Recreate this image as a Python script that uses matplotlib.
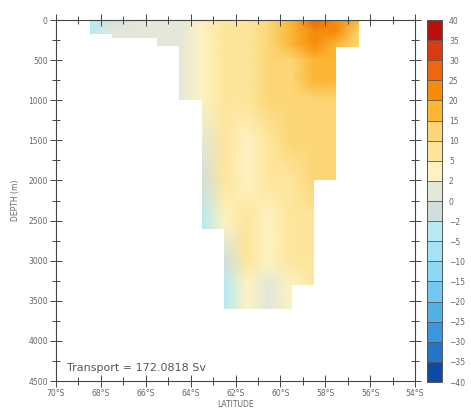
import numpy as np
import matplotlib.pyplot as plt
from matplotlib.colors import ListedColormap, BoundaryNorm
from matplotlib.patches import Polygon

# latitude nodes (deg, south negative) and depth nodes (m) of the section
lat_nodes = [-68.5, -67.5, -66.5, -65.5, -64.5, -63.5, -62.5,
             -61.5, -60.5, -59.5, -58.5, -57.5, -56.5]
depth_nodes = [0, 150, 300, 500, 750, 1000, 1500, 2000, 2500, 3000, 3300, 3600]

# zonal transport per node (Sv), rows = depth, cols = latitude
transport = [
    [-4, -1, 0.5, 1, 1, 3, 7, 9, 11, 17, 26, 23, 15],
    [-3, 0, 0.5, 1, 1, 3, 8, 9, 11, 16, 24, 21, 14],
    [-2, 0, 0.5, 1, 0.5, 2, 8, 9, 11, 15, 21, 19, 13],
    [-1, 0, 0.5, 1, 0.5, 2, 8, 9, 10, 13, 18, 17, 13],
    [0, 0, 0.5, 1, 0.5, 2, 8, 8, 10, 12, 15, 15, 13],
    [0, 0, 0.5, 1, 0.5, 2, 8, 7, 10, 11, 13, 14, 12],
    [0, 0, 0.5, 1, 0.5, 1, 8, 4, 9, 10, 12, 13, 12],
    [0, 0, 0.5, 1, 0, -1, 6, 3, 8, 9, 11, 11, 11],
    [0, 0, 0.5, 1, 0, -3, 4, 7, 3, 7, 8, 8, 8],
    [0, 0, 0.5, 1, 0, -3, -2, 6, 2, 6, 7, 7, 7],
    [0, 0, 0.5, 1, 0, -3, -3, 4, 1, 4, 5, 5, 5],
    [0, 0, 0.5, 1, 0, -3, -3, 3, 1, 3, 4, 4, 4],
]

# bottom depth of each 1-degree ocean column (between consecutive lat_nodes)
bottom_depth = [180, 220, 220, 320, 1000, 2600, 3600, 3600, 3600, 3300, 2000, 340]

total_transport = 172.0818

levels = [-40, -35, -30, -25, -20, -15, -10, -5, -2, 0, 2, 5, 10, 15, 20, 25, 30, 35, 40]
colors = ['#0c4aa6', '#2474c8', '#3c96dc', '#55b0e6', '#74c8f0', '#8ed8f4',
          '#a4e2f6', '#b6eaf5', '#d0dfdc', '#e3e8d8', '#fef2c2', '#fde69c',
          '#fcd676', '#fab634', '#f58c0a', '#ee6610', '#da3a12', '#b8100e']

cmap = ListedColormap(colors)
norm = BoundaryNorm(levels, cmap.N)

fig = plt.figure(figsize=(4.71, 4.12), dpi=100)
ax = fig.add_axes([0.1189, 0.0752, 0.7622, 0.8762])
cax = fig.add_axes([0.9066, 0.0728, 0.0318, 0.8786])

X, Y = np.meshgrid(lat_nodes, depth_nodes)
mesh = ax.pcolormesh(X, Y, np.array(transport, dtype=float), cmap=cmap, norm=norm,
                     shading='gouraud')

# clip the field to the ocean (stepped bathymetry)
outline = [(lat_nodes[0], 0)]
for i, b in enumerate(bottom_depth):
    outline.append((lat_nodes[i], b))
    outline.append((lat_nodes[i + 1], b))
outline.append((lat_nodes[-1], 0))
ocean = Polygon(outline, closed=True, transform=ax.transData, facecolor='none',
                edgecolor='none')
ax.add_patch(ocean)
mesh.set_clip_path(ocean)

ax.set_xlim(-70, -54)
ax.set_ylim(4500, 0)

xt = np.arange(-70, -53, 2)
ax.set_xticks(xt)
ax.set_xticklabels([f"{abs(v)}°S" for v in xt])
ax.set_xticks(np.arange(-70, -53, 1), minor=True)
ax.set_yticks(np.arange(0, 4501, 500))
ax.set_yticks(np.arange(0, 4501, 250), minor=True)

ax.tick_params(which='both', direction='inout', top=True, right=True,
               labeltop=False, labelright=False, colors='#444444',
               labelcolor='#666666', labelsize=5.5, width=0.7)
ax.tick_params(which='major', length=8, pad=2)
ax.tick_params(which='minor', length=6)
for s in ax.spines.values():
    s.set_color('#444444')
    s.set_linewidth(0.8)

ax.set_xlabel('LATITUDE', fontsize=5.5, color='#666666', labelpad=1)
ax.set_ylabel('DEPTH (m)', fontsize=5.5, color='#666666', labelpad=6)

ax.text(-69.5, 4340, f"Transport = {total_transport} Sv", fontsize=8,
        color='#555555', va='center', ha='left')

cb = fig.colorbar(mesh, cax=cax, boundaries=levels, ticks=levels,
                  spacing='uniform', drawedges=True)
cb.outline.set_edgecolor('#555555')
cb.outline.set_linewidth(0.7)
cb.dividers.set_color('#555555')
cb.dividers.set_linewidth(0.6)
cax.tick_params(length=0, labelsize=5.5, labelcolor='#666666', pad=5)

fig.savefig('out.png', dpi=100)
